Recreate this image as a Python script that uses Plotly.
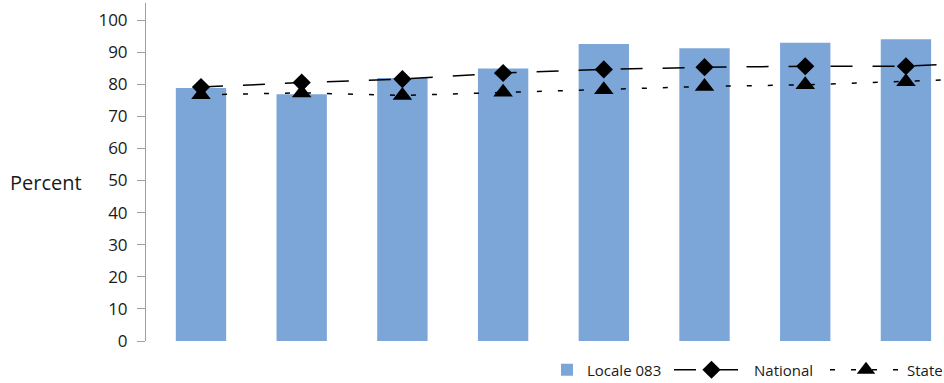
import plotly.graph_objects as go

# Data
categories = ["1", "2", "3", "4", "5", "6", "7", "8", "9"]
locale_083 = [78.8, 76.9, 81.9, 84.9, 92.5, 91.2, 92.9, 94.0, None]
national = [79.1, 80.5, 81.6, 83.5, 84.6, 85.3, 85.6, 85.6, 87.0]
state = [76.7, 77.3, 76.5, 77.5, 78.3, 79.3, 79.8, 80.8, 82.0]
y_ticks = [0, 10, 20, 30, 40, 50, 60, 70, 80, 90, 100]

FONT = "Open Sans"
BAR_COLOR = "#7DA6D8"
AXIS_COLOR = "#a0a0a0"
TEXT_COLOR = "#1a1a1a"
W, H = 944, 383

fig = go.Figure()
fig.add_trace(go.Bar(
    x=categories, y=locale_083, name="Locale 083",
    marker=dict(color=BAR_COLOR, line=dict(width=0)),
    width=0.5, legend="legend",
))
fig.add_trace(go.Scatter(
    x=categories, y=national, name="National", mode="lines+markers",
    line=dict(color="black", width=1.5, dash="22px,20px"),
    marker=dict(symbol="diamond", size=14, color="black"),
    legend="legend2",
))
fig.add_trace(go.Scatter(
    x=categories, y=state, name="State", mode="lines+markers",
    line=dict(color="black", width=1.5, dash="5px,16px"),
    marker=dict(symbol="triangle-up", size=17, color="black"),
    legend="legend3",
))


def legend_box(left_px, itemwidth):
    return dict(
        orientation="h", xref="container", yref="container",
        x=left_px / W, xanchor="left", y=1 - 370 / H, yanchor="middle",
        itemwidth=itemwidth, borderwidth=0,
        font=dict(size=15, family=FONT, color=TEXT_COLOR),
        bgcolor="rgba(0,0,0,0)",
    )


fig.update_layout(
    width=W, height=H,
    margin=dict(l=146, r=0, t=3, b=42, autoexpand=False),
    paper_bgcolor="white", plot_bgcolor="white",
    font=dict(family=FONT, color=TEXT_COLOR),
    showlegend=True,
    legend=legend_box(547, 30),
    legend2=legend_box(669, 75),
    legend3=legend_box(825, 72),
    xaxis=dict(
        type="category", categoryarray=categories, range=[-0.546, 7.378],
        showticklabels=False, showgrid=False, showline=False, zeroline=False,
        ticks="",
    ),
    yaxis=dict(
        range=[0, 105.3], tickvals=y_ticks, ticktext=[str(v) for v in y_ticks],
        showgrid=False, zeroline=False,
        showline=True, linecolor=AXIS_COLOR, linewidth=1,
        ticks="outside", ticklen=8, tickcolor=AXIS_COLOR, tickwidth=1,
        tickfont=dict(size=17, family=FONT, color=TEXT_COLOR),
        ticklabelstandoff=6,
    ),
    annotations=[dict(
        text="Percent", xref="paper", yref="paper",
        x=-0.1253, y=0.47, xanchor="center", yanchor="middle",
        showarrow=False, font=dict(size=20, family=FONT, color=TEXT_COLOR),
    )],
)

fig.write_html(
    "out.html",
    config={"displayModeBar": False},
    post_script="document.body.style.margin='0';document.body.style.overflow='hidden';",
)
